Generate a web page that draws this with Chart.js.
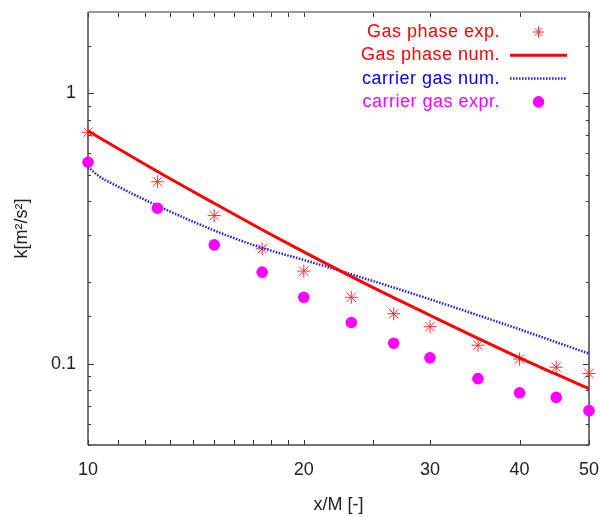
<!DOCTYPE html>
<html>
<head>
<meta charset="utf-8">
<script src="https://cdn.jsdelivr.net/npm/chart.js@4"></script>
<style>
  html, body { margin: 0; padding: 0; background: #fff; }
  #wrap { width: 600px; height: 517px; position: relative; }
</style>
</head>
<body>
<div id="wrap"><canvas id="c"></canvas></div>
<script>
// ---- data ----
const seriesLabels = ['Gas phase exp.', 'Gas phase num.', 'carrier gas num.', 'carrier gas expr.'];
const xExp = [10, 12.5, 15, 17.5, 20, 23.3, 26.7, 30, 35, 40, 45, 50];
const gasExp = [0.718, 0.471, 0.353, 0.266, 0.220, 0.176, 0.153, 0.137, 0.117, 0.104, 0.097, 0.092];
const carrierExp = [0.556, 0.376, 0.275, 0.218, 0.176, 0.142, 0.119, 0.105, 0.088, 0.078, 0.075, 0.067];
const xGasNum = [10, 12.5, 15, 17.5, 20, 25, 30, 35, 40, 45, 50];
const gasNum = [0.726, 0.514, 0.392, 0.313, 0.259, 0.191, 0.151, 0.124, 0.105, 0.0914, 0.0808];
const xCarrierNum = [10, 10.4, 10.8, 12.5, 15, 17.5, 20, 25, 30, 35, 40, 45, 50];
const carrierNum = [0.534, 0.49, 0.464, 0.384, 0.311, 0.268, 0.242, 0.202, 0.173, 0.151, 0.134, 0.120, 0.109];
const xTickLabels = [10, 20, 30, 40, 50];
const yTickLabels = [0.1, 1];
const xRange = [10, 50];
const yRange = [0.05, 2];

const pts = (xs, ys) => xs.map((x, i) => ({ x: x, y: ys[i] }));
const near = (v, list) => list.some(t => Math.abs(v - t) < 1e-9 * Math.max(1, t));
const FONT = "'Liberation Sans', Arial, Helvetica, sans-serif";

Chart.defaults.font.family = FONT;
Chart.defaults.font.size = 18;
Chart.defaults.color = '#222';

const frameTicks = {
  id: 'frameTicks',
  beforeDatasetsDraw(chart) {
    const { ctx, chartArea: a, scales } = chart;
    ctx.save();
    ctx.strokeStyle = '#333';
    ctx.lineWidth = 1;
    const seg = (x1, y1, x2, y2) => { ctx.beginPath(); ctx.moveTo(x1, y1); ctx.lineTo(x2, y2); ctx.stroke(); };
    scales.y.ticks.forEach(t => {
      const py = Math.round(scales.y.getPixelForValue(t.value)) + 0.5;
      const len = near(t.value, yTickLabels) ? 6 : 3;
      seg(a.left, py, a.left + len, py);
      seg(a.right, py, a.right - len, py);
    });
    scales.x.ticks.forEach(t => {
      const px = Math.round(scales.x.getPixelForValue(t.value)) + 0.5;
      seg(px, a.bottom, px, a.bottom - 5);
      seg(px, a.top, px, a.top + 5);
    });
    // frame
    ctx.lineWidth = 1.5;
    ctx.strokeStyle = '#444';
    seg(a.left, a.top, a.left, a.bottom);
    seg(a.left, a.bottom, a.right, a.bottom);
    seg(a.right, a.top, a.right, a.bottom);
    ctx.strokeStyle = '#999';
    ctx.lineWidth = 2;
    seg(a.left, a.top, a.right, a.top);
    ctx.restore();
  },
  afterDraw(chart) {
    // legend, gnuplot style: right-aligned text, sample on the right
    const { ctx, chartArea: a } = chart;
    ctx.save();
    ctx.font = "18px " + FONT;
    try { ctx.letterSpacing = '0.5px'; } catch (e) {}
    ctx.textAlign = 'right';
    ctx.textBaseline = 'middle';
    const textRight = a.right - 89;
    const sx1 = a.right - 79, sx2 = a.right - 22, sc = (sx1 + sx2) / 2;
    chart.data.datasets.forEach((ds, i) => {
      const y = a.top + 20 + i * 23.3;
      ctx.fillStyle = ds.legendColor;
      ctx.fillText(ds.label, textRight, y);
      if (ds.showLine) {
        ctx.strokeStyle = ds.borderColor;
        ctx.lineWidth = ds.borderWidth;
        ctx.setLineDash(ds.borderDash || []);
        ctx.beginPath(); ctx.moveTo(sx1, y); ctx.lineTo(sx2, y); ctx.stroke();
        ctx.setLineDash([]);
      } else {
        ctx.fillStyle = ds.pointBackgroundColor;
        ctx.strokeStyle = ds.pointBorderColor;
        ctx.lineWidth = 1;
        ctx.beginPath();
        if (ds.pointStyle === 'circle') {
          ctx.arc(sc, y, ds.pointRadius, 0, Math.PI * 2); ctx.fill();
        } else {
          const r = ds.pointRadius - 1;
          for (let k = 0; k < 4; k++) {
            const ang = k * Math.PI / 4;
            ctx.moveTo(sc - r * Math.cos(ang), y - r * Math.sin(ang));
            ctx.lineTo(sc + r * Math.cos(ang), y + r * Math.sin(ang));
          }
          ctx.stroke();
        }
      }
    });
    ctx.restore();
  }
};

new Chart(document.getElementById('c'), {
  type: 'scatter',
  data: {
    datasets: [
      {
        label: seriesLabels[0], data: pts(xExp, gasExp), showLine: false,
        pointStyle: 'star', pointRadius: 6.5, pointBorderWidth: 1,
        pointBorderColor: '#ff3030', pointBackgroundColor: '#ff3030', legendColor: '#ff0000', clip: false, order: 3
      },
      {
        label: seriesLabels[1], data: pts(xGasNum, gasNum), showLine: true,
        borderColor: '#ff0000', borderWidth: 3, pointRadius: 0, cubicInterpolationMode: 'monotone',
        legendColor: '#ff0000', clip: false, order: 1
      },
      {
        label: seriesLabels[2], data: pts(xCarrierNum, carrierNum), showLine: true,
        borderColor: '#1a1aff', borderWidth: 2.5, borderDash: [1.5, 1.5], pointRadius: 0,
        cubicInterpolationMode: 'monotone', legendColor: '#0000ff', clip: false, order: 2
      },
      {
        label: seriesLabels[3], data: pts(xExp, carrierExp), showLine: false,
        pointStyle: 'circle', pointRadius: 5.8, pointBorderWidth: 0,
        pointBorderColor: '#ff00ff', pointBackgroundColor: '#ff00ff', legendColor: '#ff00ff', clip: false, order: 0
      }
    ]
  },
  options: {
    responsive: true,
    maintainAspectRatio: false,
    animation: false,
    layout: { padding: { left: 0, top: 12, right: 11, bottom: 0 } },
    plugins: { legend: { display: false }, tooltip: { enabled: false } },
    scales: {
      x: {
        type: 'logarithmic', min: xRange[0], max: xRange[1],
        grid: { display: false, drawTicks: false }, border: { display: false },
        ticks: {
          padding: 14, maxRotation: 0, autoSkip: false, color: '#222',
          callback: v => near(v, xTickLabels) ? String(v) : ''
        },
        title: { display: true, text: 'x/M [-]', color: '#222', font: { size: 18 }, padding: { top: 2, bottom: 1 } },
        afterFit: s => { s.height = 72; s.paddingLeft = 0; s.paddingRight = 0; }
      },
      y: {
        type: 'logarithmic', min: yRange[0], max: yRange[1],
        grid: { display: false, drawTicks: false }, border: { display: false },
        ticks: {
          padding: 12, autoSkip: false, color: '#222',
          callback: v => near(v, yTickLabels) ? String(v) : ''
        },
        title: { display: true, text: 'k[m²/s²]', color: '#222', font: { size: 18 }, padding: { top: 11, bottom: 0 } },
        afterFit: s => { s.width = 88; s.paddingTop = 0; s.paddingBottom = 0; }
      }
    }
  },
  plugins: [frameTicks]
});
</script>
</body>
</html>
